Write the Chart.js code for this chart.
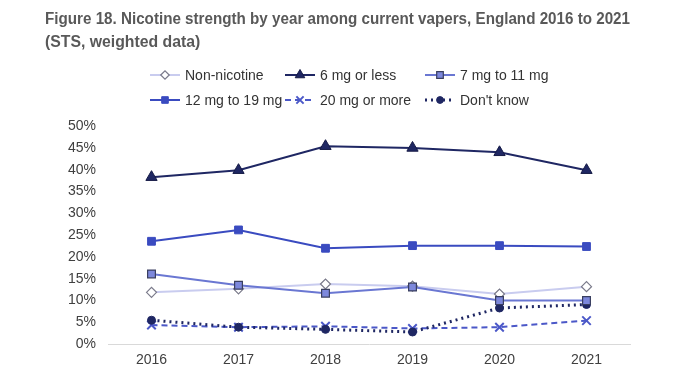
<!DOCTYPE html>
<html><head><meta charset="utf-8">
<script src="https://cdn.jsdelivr.net/npm/chart.js@4.4.1/dist/chart.umd.min.js"></script>
<style>html,body{margin:0;padding:0;background:#fff}</style>
</head><body>
<canvas id="c" width="700" height="379"></canvas>
<script>
// ---- data ----
const years = ['2016', '2017', '2018', '2019', '2020', '2021'];
const nonNicotine = [11.9, 12.7, 13.8, 13.3, 11.5, 13.2];
const mg6OrLess   = [38.3, 39.9, 45.4, 45.0, 44.0, 39.9];
const mg7to11     = [16.1, 13.5, 11.7, 13.1, 10.0, 10.0];
const mg12to19    = [23.6, 26.2, 22.0, 22.6, 22.6, 22.4];
const mg20OrMore  = [4.4, 3.9, 4.1, 3.6, 3.9, 5.4];
const dontKnow    = [5.5, 3.9, 3.4, 2.8, 8.3, 9.1];
const seriesNames = ['Non-nicotine', '6 mg or less', '7 mg to 11 mg', '12 mg to 19 mg', '20 mg or more', "Don't know"];
const titleLines = ['Figure 18. Nicotine strength by year among current vapers, England 2016 to 2021', '(STS, weighted data)'];
const yMin = 0, yMax = 50, yStep = 5;

const FONT = "'Liberation Sans', Arial, sans-serif";
const NAVY = '#1f2763';

const datasets = [
  { label: seriesNames[2], data: mg7to11, borderColor: '#6a77d2', backgroundColor: '#7d88dc',
    pointStyle: 'rect', pointRadius: 5.5, pointBorderColor: '#3a3f60', pointBorderWidth: 1.2, borderWidth: 2, order: 1 },
  { label: seriesNames[0], data: nonNicotine, borderColor: '#c9ccef', backgroundColor: '#ffffff',
    pointStyle: 'rectRot', pointRadius: 5, pointBorderColor: '#7a7a8a', pointBorderWidth: 1.2, borderWidth: 2, order: 2 },
  { label: seriesNames[1], data: mg6OrLess, borderColor: NAVY, backgroundColor: NAVY,
    pointStyle: 'triangle', pointRadius: 6.5, pointBorderColor: '#151a45', pointBorderWidth: 1, borderWidth: 2, order: 0 },
  { label: seriesNames[3], data: mg12to19, borderColor: '#3a4bc0', backgroundColor: '#3a4bc0',
    pointStyle: 'rect', pointRadius: 5.5, pointBorderColor: '#3a4bc0', pointBorderWidth: 1, borderWidth: 2, order: 0 },
  { label: seriesNames[4], data: mg20OrMore, borderColor: '#4b58c8', backgroundColor: '#4b58c8',
    pointStyle: 'cross', pointRotation: 45, pointRadius: 6, pointBorderColor: '#4b58c8', pointBorderWidth: 2, borderWidth: 2, borderDash: [6, 4], order: 4 },
  { label: seriesNames[5], data: dontKnow, borderColor: NAVY, backgroundColor: NAVY,
    pointStyle: 'circle', pointRadius: 4, pointBorderColor: NAVY, pointBorderWidth: 1, borderWidth: 3, borderDash: [2, 4], order: 3 }
];
datasets.forEach(d => { d.pointBackgroundColor = d.backgroundColor; d.fill = false; d.tension = 0; });

// custom legend in fixed columns (like the original)
const legendOrder = [seriesNames[0], seriesNames[1], seriesNames[2], seriesNames[3], seriesNames[4], seriesNames[5]];
const gridLegend = {
  id: 'gridLegend',
  afterDraw(chart) {
    const ctx = chart.ctx;
    const colX = [150, 285, 425], rowY = [75, 100];
    legendOrder.forEach((name, i) => {
      const ds = chart.data.datasets.find(d => d.label === name);
      const x = colX[i % 3], y = rowY[Math.floor(i / 3)];
      ctx.save();
      ctx.strokeStyle = ds.borderColor;
      ctx.lineWidth = ds.borderWidth;
      ctx.setLineDash(ds.borderDash || []);
      ctx.beginPath(); ctx.moveTo(x, y); ctx.lineTo(x + 30, y); ctx.stroke();
      ctx.setLineDash([]);
      ctx.fillStyle = ds.pointBackgroundColor;
      ctx.strokeStyle = ds.pointBorderColor;
      ctx.lineWidth = ds.pointBorderWidth;
      Chart.helpers.drawPoint(ctx, { pointStyle: ds.pointStyle, radius: ds.pointRadius * 0.85, rotation: ds.pointRotation || 0, borderWidth: ds.pointBorderWidth }, x + 15, y);
      ctx.fillStyle = '#333333';
      ctx.font = '14px ' + FONT;
      ctx.textBaseline = 'middle';
      ctx.fillText(name, x + 35, y + 1);
      ctx.restore();
    });
  }
};

new Chart(document.getElementById('c'), {
  type: 'line',
  data: { labels: years, datasets },
  plugins: [gridLegend],
  options: {
    responsive: false,
    animation: false,
    devicePixelRatio: 1,
    layout: { padding: { left: 45, right: 70, top: 6, bottom: 2 } },
    plugins: {
      legend: { display: false },
      tooltip: { enabled: false },
      title: {
        display: true, text: titleLines, align: 'start', color: '#595959',
        font: { family: FONT, size: 15.8, weight: 'bold', lineHeight: 1.46 },
        padding: { top: 2, bottom: 72 }
      }
    },
    scales: {
      x: {
        offset: true,
        grid: { display: false, drawTicks: false },
        border: { display: true, color: '#d9d9d9', width: 1 },
        ticks: { color: '#404040', font: { family: FONT, size: 14 }, padding: 8 }
      },
      y: {
        min: yMin, max: yMax,
        afterFit(scale) { scale.width = 63; },
        grid: { display: false, drawTicks: false },
        border: { display: false },
        ticks: { stepSize: yStep, color: '#404040', font: { family: FONT, size: 14 }, padding: 12,
          callback: v => v + '%' }
      }
    }
  }
});
</script>
</body></html>
